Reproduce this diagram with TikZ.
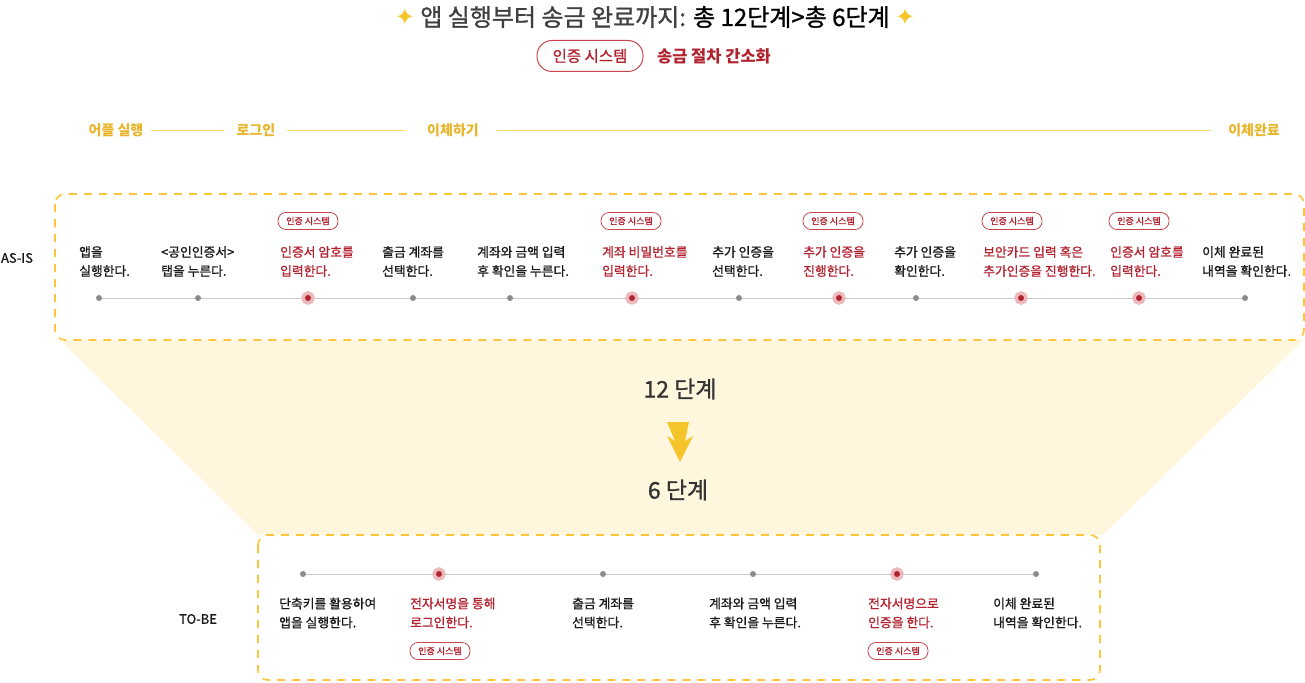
\documentclass[tikz,border=0pt]{standalone}
\usepackage{fontspec}
\setmainfont{Noto Sans CJK KR}
\newfontfamily\medf[FakeBold=1.1]{Noto Sans CJK KR}
\newfontfamily\symf{DejaVu Sans}
\usetikzlibrary{backgrounds}
\definecolor{myred}{HTML}{B22330}
\definecolor{pillred}{HTML}{C8474D}
\definecolor{halo}{HTML}{EDB9BC}
\definecolor{dotgray}{HTML}{8C8C8C}
\definecolor{linegray}{HTML}{C8C8C8}
\definecolor{ytxt}{HTML}{E8B42A}
\definecolor{yline}{HTML}{F5D86E}
\definecolor{dashy}{HTML}{FDC53A}
\definecolor{cream}{HTML}{FFF6DE}
\definecolor{stary}{HTML}{F6C42B}
\definecolor{titlegray}{HTML}{404040}
\definecolor{bodyblk}{HTML}{1A1A1A}
\definecolor{bigtxt}{HTML}{333333}
\begin{document}
\begin{tikzpicture}[x=1pt,y=-1pt,
  dbox/.style={draw=dashy, line width=1.6pt, dash pattern=on 8pt off 7pt, rounded corners=10pt},
  ytext/.style={font=\bfseries\fontsize{14}{16}\selectfont, text=ytxt, inner sep=0pt},
  ylink/.style={draw=yline, line width=1pt},
  btxt/.style={font=\medf\fontsize{12.8}{19}\selectfont, text=bodyblk, align=left, anchor=west, inner sep=0pt},
  rtxt/.style={btxt, text=myred},
  dotg/.style={circle, fill=dotgray, inner sep=0pt, minimum size=6pt},
  dotr/.style={circle, fill=myred, draw=halo, line width=3.5pt, inner sep=0pt, minimum size=10pt},
  tline/.style={draw=linegray, line width=1pt},
  spill/.style={draw=pillred, line width=0.8pt, rounded corners=8pt, minimum width=60pt, minimum height=17pt, inner sep=0pt, text=myred, font=\medf\fontsize{9}{10}\selectfont},
  bigpill/.style={draw=pillred, line width=1pt, rounded corners=15pt, minimum width=106pt, minimum height=31pt, inner sep=0pt, text=myred, font=\medf\fontsize{15.5}{17}\selectfont},
  lbl/.style={font=\medf\fontsize{13}{15}\selectfont, text=bodyblk, inner sep=0pt},
  bignum/.style={font=\medf\fontsize{23}{26}\selectfont, text=bigtxt, inner sep=0pt}
]
\useasboundingbox (0,0) rectangle (1305,682);

% cream funnel and dashed boxes
\fill[cream] (60,340) -- (1303,340) -- (1103,535) -- (258,535) -- cycle;
\draw[dbox] (55,194) rectangle (1304,340);
\draw[dbox] (258,535) rectangle (1100,680);

% title
\node[font=\medf\fontsize{24}{27}\selectfont, text=titlegray, inner sep=0pt] (title) at (655,17)
  {{\symf\color{stary}✦} 앱 실행부터 송금 완료까지: {\color{black}총 12단계>총 6단계} {\symf\color{stary}✦}};
\node[bigpill] (pill) at (590,56) {인증 시스템};
\node[font=\bfseries\fontsize{16.5}{18}\selectfont, text=myred, inner sep=0pt] (simp) at (714,56) {송금 절차 간소화};

% phase row
\node[ytext] (p1) at (116,130) {어플 실행};
\node[ytext] (p2) at (256,130) {로그인};
\node[ytext] (p3) at (453,130) {이체하기};
\node[ytext] (p4) at (1254,130) {이체완료};
\draw[ylink, shorten <=7pt, shorten >=12pt] (p1) -- (p2);
\draw[ylink, shorten <=11pt, shorten >=22pt] (p2) -- (p3);
\draw[ylink, shorten <=18pt, shorten >=17pt] (p3) -- (p4);

% AS-IS
\node[lbl] (asis) at (17,258) {AS-IS};
\foreach \x/\n/\s in {99/a1/dotg,198/a2/dotg,308/a3/dotr,413/a4/dotg,510/a5/dotg,632/a6/dotr,739/a7/dotg,839/a8/dotr,916/a9/dotg,1021/a10/dotr,1139/a11/dotr,1245/a12/dotg}
  \node[\s] (\n) at (\x,298) {};
\node[btxt] (t1) at (79,261.5) {앱을\\실행한다.};
\node[btxt] (t2) at (161,261.5) {<공인인증서>\\탭을 누른다.};
\node[rtxt] (t3) at (280,261.5) {인증서 암호를\\입력한다.};
\node[btxt] (t4) at (382,261.5) {출금 계좌를\\선택한다.};
\node[btxt] (t5) at (477,261.5) {계좌와 금액 입력\\후 확인을 누른다.};
\node[rtxt] (t6) at (602,261.5) {계좌 비밀번호를\\입력한다.};
\node[btxt] (t7) at (712,261.5) {추가 인증을\\선택한다.};
\node[rtxt] (t8) at (803,261.5) {추가 인증을\\진행한다.};
\node[btxt] (t9) at (894,261.5) {추가 인증을\\확인한다.};
\node[rtxt] (t10) at (983,261.5) {보안카드 입력 혹은\\추가인증을 진행한다.};
\node[rtxt] (t11) at (1110,261.5) {인증서 암호를\\입력한다.};
\node[btxt] (t12) at (1202,261.5) {이체 완료된\\내역을 확인한다.};
\node[spill] (s1) at (308,221) {인증 시스템};
\node[spill] (s2) at (631,221) {인증 시스템};
\node[spill] (s3) at (833,221) {인증 시스템};
\node[spill] (s4) at (1012,221) {인증 시스템};
\node[spill] (s5) at (1139,221) {인증 시스템};

% middle
\node[bignum] (n12) at (680,389) {12 단계};
\node[bignum] (n6) at (678,490) {6 단계};
\fill[stary] (667,422) -- (689,422) -- (685,441) -- (693,436) -- (680,462) -- (667,436) -- (675,441) -- cycle;

% TO-BE
\node[lbl] (tobe) at (198,619) {TO-BE};
\foreach \x/\n/\s in {303/b1/dotg,439/b2/dotr,603/b3/dotg,753/b4/dotg,897/b5/dotr,1036/b6/dotg}
  \node[\s] (\n) at (\x,574) {};
\node[btxt] (u1) at (279,613) {단축키를 활용하여\\앱을 실행한다.};
\node[rtxt] (u2) at (410,613) {전자서명을 통해\\로그인한다.};
\node[btxt] (u3) at (572,613) {출금 계좌를\\선택한다.};
\node[btxt] (u4) at (709,613) {계좌와 금액 입력\\후 확인을 누른다.};
\node[rtxt] (u5) at (868,613) {전자서명으로\\인증을 한다.};
\node[btxt] (u6) at (993,613) {이체 완료된\\내역을 확인한다.};
\node[spill] (v1) at (440,651) {인증 시스템};
\node[spill] (v2) at (898,651) {인증 시스템};

\begin{scope}[on background layer]
  \draw[tline] (a1) -- (a12);
  \draw[tline] (b1) -- (b6);
\end{scope}
\end{tikzpicture}
\end{document}
